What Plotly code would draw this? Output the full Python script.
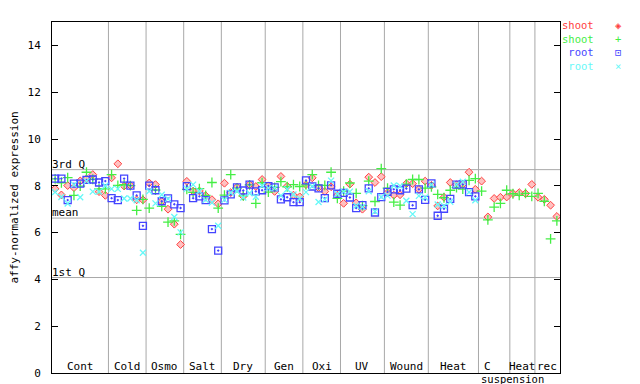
import plotly.graph_objects as go

# ---------------- data ----------------
categories = ["Cont", "Cold", "Osmo", "Salt", "Dry", "Gen", "Oxi", "UV",
              "Wound", "Heat", "C", "Heat", "rec"]
cat_sizes = [9, 6, 6, 6, 7, 6, 6, 7, 7, 8, 5, 4, 4]

shoot_a = [7.87, 7.61, 8.01, 7.92, 8.21, 8.30, 8.48, 7.75, 7.59,
           8.34, 8.94, 7.99, 8.01, 7.40, 7.40,
           8.12, 8.05, 7.33, 7.00, 6.36, 5.49,
           8.19, 7.77, 7.78, 7.58, 7.41, 7.23,
           8.11, 7.71, 7.94, 7.55, 8.05, 7.97, 8.27,
           8.00, 7.76, 8.40, 7.98, 7.60, 7.53,
           8.05, 8.34, 7.92, 7.76, 7.96, 7.60,
           7.25, 8.07, 7.27, 7.00, 8.37, 8.14, 8.39,
           7.70, 7.60, 7.62, 8.09, 8.09, 7.85, 8.20,
           8.02, 7.14, 7.51, 8.14, 8.05, 8.06, 8.58, 7.85,
           8.20, 6.67, 7.46, 7.51, 7.52,
           7.67, 7.71, 7.67, 8.06,
           7.51, 7.42, 7.17, 6.69]

shoot_b = [8.30, 8.13, 8.35, 7.59, 7.99, 8.58, 8.28, 7.87, 7.87,
           8.48, 8.02, 8.05, 8.01, 6.95, 7.42,
           7.05, 7.82, 7.12, 6.45, 6.50, 5.92,
           7.85, 7.72, 7.88, 7.59, 8.14, 7.05,
           7.60, 8.48, 7.90, 7.57, 8.04, 7.25, 8.13,
           7.73, 7.93, 8.18, 7.96, 8.05, 7.97,
           8.04, 8.48, 8.02, 8.02, 8.58, 7.46,
           7.77, 8.12, 7.68, 7.15, 8.20, 7.33, 8.73,
           7.90, 7.30, 7.17, 8.07, 8.27, 8.27, 7.90,
           7.95, 7.63, 7.49, 7.81, 7.92, 7.86, 8.23, 8.31,
           7.77, 6.54, 7.09, 7.25, 7.81,
           7.66, 7.59, 7.68, 7.55,
           7.68, 7.34, 5.73, 6.50]

root_a = [8.31, 8.31, 7.39, 8.09, 8.09, 8.25, 8.27, 8.14, 8.20,
          7.47, 7.39, 8.31, 8.01, 7.59, 6.29,
          8.01, 7.81, 7.34, 7.46, 7.21, 7.05,
          7.99, 7.47, 7.55, 7.39, 6.15, 5.23,
          7.38, 7.63, 7.93, 7.80, 8.05, 7.76, 7.81,
          7.99, 7.93, 7.42, 7.51, 7.30, 7.30,
          8.23, 7.97, 7.89, 7.47, 8.02, 7.66,
          7.70, 7.50, 7.05, 7.17, 7.89, 6.86, 7.52,
          7.74, 7.85, 7.81, 7.88, 7.17, 7.85, 7.40,
          8.10, 6.72, 7.02, 7.44, 8.05, 8.06, 7.73, 7.55] + [None] * 13

root_b = [7.73, 7.52, 7.24, 8.05, 7.51, 8.20, 7.75, 7.75, 8.00,
          7.87, 7.87, 7.46, 7.46, 7.38, 5.14,
          7.77, 7.25, 7.62, 7.44, 6.67, 6.01,
          7.87, 8.05, 7.77, 7.40, 7.28, 6.29,
          7.40, 7.70, 7.77, 7.50, 7.68, 7.53, 8.00,
          7.90, 7.90, 7.58, 7.85, 7.63, 7.45,
          7.73, 7.98, 7.31, 7.42, 8.22, 7.65,
          7.75, 7.75, 7.15, 7.10, 7.77, 6.90, 7.52,
          7.58, 8.01, 7.99, 7.36, 6.79, 7.57, 7.50,
          8.05, 7.20, 7.14, 7.32, 8.05, 8.17, 7.73, 7.38] + [None] * 13

q3_value, mean_value, q1_value = 8.69, 6.62, 4.08
y_ticks = [0, 2, 4, 6, 8, 10, 12, 14]
legend_labels = ["shoot", "shoot", "root", "root"]

# ---------------- figure ----------------
n = sum(cat_sizes)
xs = [i + 0.5 for i in range(n)]
FONT = "DejaVu Sans Mono"
RED, GREEN, BLUE, CYAN = "#ff4040", "#44ee44", "#4444ff", "#66f8f8"

fig = go.Figure()
fig.add_trace(go.Scatter(x=xs, y=shoot_a, mode="markers", name="shoot",
                         marker=dict(symbol="diamond", size=6, color="#ffc0c0",
                                     line=dict(color=RED, width=1))))
fig.add_trace(go.Scatter(x=xs, y=shoot_b, mode="markers", name="shoot",
                         marker=dict(symbol="cross-thin-open", size=7, color=GREEN,
                                     line=dict(color=GREEN, width=1.3))))
fig.add_trace(go.Scatter(x=xs, y=root_a, mode="markers", name="root",
                         marker=dict(symbol="square-open-dot", size=7, color=BLUE,
                                     line=dict(color=BLUE, width=1.3))))
fig.add_trace(go.Scatter(x=xs, y=root_b, mode="markers", name="root",
                         marker=dict(symbol="x-thin-open", size=6, color=CYAN,
                                     line=dict(color=CYAN, width=1.3))))

shapes = []
annotations = []
# category separators and labels
start = 0
for name, size in zip(categories, cat_sizes):
    end = start + size
    if end < n:
        shapes.append(dict(type="line", xref="x", yref="paper", x0=end, x1=end,
                           y0=0, y1=1, line=dict(color="#a8a8a8", width=1),
                           layer="below"))
    cx = start + size / 2
    if name == "C":
        cx -= 1.0
    annotations.append(dict(x=cx, y=0, xref="x", yref="paper", text=name,
                            showarrow=False, xanchor="center", yanchor="bottom",
                            yshift=-2, font=dict(family=FONT, size=11, color="black")))
    start = end

annotations.append(dict(x=73.5, y=0, xref="x", yref="paper", text="suspension",
                        showarrow=False, xanchor="center", yanchor="bottom",
                        yshift=-14, font=dict(family=FONT, size=10.5, color="black")))

# quartile lines
for val, lab in [(q3_value, "3rd Q"), (mean_value, "mean"), (q1_value, "1st Q")]:
    shapes.append(dict(type="line", xref="paper", yref="y", x0=0, x1=1,
                       y0=val, y1=val, line=dict(color="#a8a8a8", width=1),
                       layer="below"))
    annotations.append(dict(x=0, y=val, xref="paper", yref="y", text=lab,
                            showarrow=False, xanchor="left", yanchor="bottom",
                            yshift=-3, xshift=-2,
                            font=dict(family=FONT, size=11, color="black")))

# y title
annotations.append(dict(x=0, y=0.5, xref="paper", yref="paper",
                        text="affy-normalized expression", textangle=-90,
                        showarrow=False, xanchor="center", yanchor="middle",
                        xshift=-38, font=dict(family=FONT, size=11, color="black")))

# legend (text then symbol), one block per column
colors = [RED, GREEN, BLUE, CYAN]
symbols = ["◈", "+", "⊡", "×"]
lab_text = "<br>".join(f"<span style='color:{c}'>{t}</span>"
                       for t, c in zip(legend_labels, colors))
sym_text = "<br>".join(f"<span style='color:{c}'>{s}</span>"
                       for s, c in zip(symbols, colors))
annotations.append(dict(x=1, y=1, xref="paper", yref="paper", text=lab_text,
                        showarrow=False, xanchor="right", yanchor="top",
                        align="right", xshift=36, yshift=5,
                        font=dict(family=FONT, size=10.5, color=RED)))
annotations.append(dict(x=1, y=1, xref="paper", yref="paper", text=sym_text,
                        showarrow=False, xanchor="center", yanchor="top",
                        align="center", xshift=58, yshift=5,
                        font=dict(family=FONT, size=10.5, color=RED)))

fig.update_layout(
    width=640, height=384,
    margin=dict(l=44, r=88, t=14, b=15),
    paper_bgcolor="white", plot_bgcolor="white",
    showlegend=False,
    shapes=shapes, annotations=annotations,
    xaxis=dict(range=[0, n], showgrid=False, zeroline=False, showticklabels=False,
               ticks="", showline=True, linecolor="black", linewidth=1, mirror=True),
    yaxis=dict(range=[0, 15], tickvals=y_ticks, showgrid=False, zeroline=False,
               ticks="inside", ticklen=6, tickcolor="black", showline=True,
               linecolor="black", linewidth=1, mirror="allticks",
               ticklabelstandoff=8,
               tickfont=dict(family=FONT, size=11, color="black")),
)

fig.write_html("out.html")
